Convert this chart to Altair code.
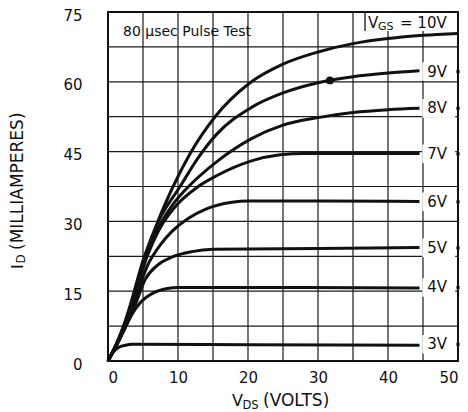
import altair as alt
import pandas as pd

F = "DejaVu Sans"
INK = "#111111"

# ---- data (VDS in volts, ID in mA) ----
vds_10 = [0, 1, 2.2, 5, 7, 9.3, 11.7, 15.3, 20.3, 25, 30, 35, 40, 45, 50]
id_10 = [0, 3, 7.5, 21, 29.5, 37.5, 44.5, 52.5, 59.8, 63.8, 66.4, 68.2, 69.3, 70, 70.4]

vds_9 = [0, 1, 2.3, 5.2, 7.2, 10.3, 12.8, 15.5, 20.5, 25, 30, 35, 40, 44.5]
id_9 = [0, 3, 7.5, 22.5, 30, 37.5, 43.5, 48.7, 54.5, 57.6, 59.8, 61.1, 61.9, 62.4]

vds_8 = [0, 1, 2.4, 5.4, 7.5, 9.3, 11.2, 15.5, 20.5, 25, 30, 35, 40, 44.5]
id_8 = [0, 3, 7.5, 22.5, 29.5, 33.7, 37, 42.8, 47.8, 50.7, 52.3, 53.4, 54, 54.3]

vds_7 = [0, 1, 2.5, 5.6, 7.6, 9.5, 12.7, 15.5, 20.5, 24.6, 28, 35, 44.5]
id_7 = [0, 3, 7.5, 22.5, 29, 33, 37.3, 39.8, 43, 44.3, 44.6, 44.6, 44.6]

vds_6 = [0, 1, 2.5, 5.8, 7.5, 9.1, 11.5, 13.9, 17.7, 20, 30, 44.5]
id_6 = [0, 2.9, 7.4, 21, 25, 27.8, 30.7, 32.6, 34.1, 34.4, 34.4, 34.3]

vds_5 = [0, 1, 2.4, 4, 5.3, 7, 9.1, 12, 15, 30, 44.5]
id_5 = [0, 2.8, 7, 12.5, 17.5, 20.5, 22.3, 23.5, 24, 24.2, 24.4]

vds_4 = [0, 1, 2.4, 3.5, 4.6, 6.7, 8.5, 10, 20, 44.5]
id_4 = [0, 2.6, 7, 10.2, 12.5, 14.8, 15.6, 15.8, 15.8, 15.7]

vds_3 = [0, 0.7, 1.5, 2.5, 3.5, 20, 44.5]
id_3 = [0, 1.8, 2.9, 3.4, 3.6, 3.5, 3.4]

curve_names = ["10V", "9V", "8V", "7V", "6V", "5V", "4V", "3V"]
curve_vds = [vds_10, vds_9, vds_8, vds_7, vds_6, vds_5, vds_4, vds_3]
curve_id = [id_10, id_9, id_8, id_7, id_6, id_5, id_4, id_3]

label_names = ["9V", "8V", "7V", "6V", "5V", "4V", "3V"]
label_levels = [62.2, 54.3, 44.5, 34.2, 24.3, 15.8, 3.6]

marker_vds = [31.7]
marker_id = [60.3]

x_ticks = [0, 5, 10, 15, 20, 25, 30, 35, 40, 45, 50]
y_ticks = [0, 7.5, 15, 22.5, 30, 37.5, 45, 52.5, 60, 67.5, 75]

# ---- tables ----
rows = []
for name, vs, cs in zip(curve_names, curve_vds, curve_id):
    for v, c in zip(vs, cs):
        rows.append({"vgs": name, "vds": v, "id": c})
curves = pd.DataFrame(rows)
labels = pd.DataFrame({"name": label_names, "level": label_levels})
marker = pd.DataFrame({"vds": marker_vds, "id": marker_id})
gx = pd.DataFrame({"v": x_ticks[1:-1]})
gy = pd.DataFrame({"v": y_ticks[1:-1]})

xs = alt.Scale(domain=[0, 50], nice=False, zero=False)
ys = alt.Scale(domain=[0, 75], nice=False, zero=False)

xaxis = alt.Axis(values=x_ticks, labelExpr="datum.value % 10 == 0 ? datum.label : ''",
                 grid=False, ticks=False, domain=False, title=None,
                 labelPadding=9, labelFont=F, labelFontSize=15, labelColor=INK)
yaxis = alt.Axis(values=y_ticks, labelExpr="datum.value % 15 == 0 ? datum.label : ''",
                 grid=False, ticks=False, domain=False, title=None,
                 labelPadding=26, labelOffset=3, labelFont=F, labelFontSize=15, labelColor=INK)

grid_v = alt.Chart(gx).mark_rule(color="#1a1a1a", strokeWidth=1.2).encode(
    x=alt.X("v:Q", scale=xs, axis=xaxis))
grid_h = alt.Chart(gy).mark_rule(color="#1a1a1a", strokeWidth=1.2).encode(
    y=alt.Y("v:Q", scale=ys, axis=yaxis))

label_boxes = alt.Chart(labels).transform_calculate(
    x0="44.9", x1="49.6", lo="datum.level - 2", hi="datum.level + 2"
).mark_rect(color="white").encode(
    x=alt.X("x0:Q", scale=xs, axis=xaxis), x2="x1:Q",
    y=alt.Y("lo:Q", scale=ys, axis=yaxis), y2="hi:Q")

lines = alt.Chart(curves).mark_line(color=INK, strokeWidth=3, interpolate="monotone").encode(
    x=alt.X("vds:Q", scale=xs, axis=xaxis),
    y=alt.Y("id:Q", scale=ys, axis=yaxis),
    detail="vgs:N")

dot = alt.Chart(marker).mark_circle(color=INK, size=60, opacity=1).encode(
    x=alt.X("vds:Q", scale=xs, axis=xaxis), y=alt.Y("id:Q", scale=ys, axis=yaxis))

label_text = alt.Chart(labels).transform_calculate(xl="45.6").mark_text(
    font=F, fontSize=15, align="left", baseline="middle", color=INK).encode(
    x=alt.X("xl:Q", scale=xs, axis=xaxis), y=alt.Y("level:Q", scale=ys, axis=yaxis),
    text="name:N")

edge_ticks = alt.Chart(labels).transform_calculate(xe="50").mark_square(
    color=INK, size=10, opacity=1).encode(
    x=alt.X("xe:Q", scale=xs, axis=xaxis), y=alt.Y("level:Q", scale=ys, axis=yaxis))

one = alt.Data(values=[{}])


def txt(s, x, y, size, angle=0, baseline="alphabetic"):
    return alt.Chart(one).mark_text(text=s, font=F, fontSize=size, angle=angle,
                                    align="left", baseline=baseline, color=INK).encode(
        x=alt.value(x), y=alt.value(y))


vgs_box = alt.Chart(one).mark_rect(color="white").encode(
    x=alt.value(257), x2=alt.value(349), y=alt.value(1), y2=alt.value(19))
vgs_box_edge = alt.Chart(one).mark_rule(color=INK, strokeWidth=1.3).encode(
    x=alt.value(257), y=alt.value(0), y2=alt.value(19))

texts = [
    txt("80 µsec Pulse Test", 15, 20, 14, baseline="middle"),
    txt("V", 260, 11, 15, baseline="middle"),
    txt("GS", 270, 15, 11, baseline="middle"),
    txt("= 10V", 292, 11, 15, baseline="middle"),
    # x title
    txt("V", 124, 394, 16),
    txt("DS", 134.5, 397, 11.5),
    txt("(VOLTS)", 155, 394, 17),
    # y title (rotated)
    txt("I", -90, 257, 16, angle=270, baseline="middle"),
    txt("D", -87, 251.5, 12, angle=270, baseline="middle"),
    txt("(MILLIAMPERES)", -90, 238, 17, angle=270, baseline="middle"),
]

chart = alt.layer(grid_v, grid_h, label_boxes, vgs_box, vgs_box_edge, lines, dot,
                  label_text, edge_ticks, *texts).properties(
    width=350, height=349,
    padding={"left": 100, "top": 4, "right": 2, "bottom": 51},
    autosize=alt.AutoSizeParams(type="none"),
    background="white",
).configure_view(stroke=INK, strokeWidth=2)

chart.save("out.html", embed_options={"renderer": "svg", "actions": False})
